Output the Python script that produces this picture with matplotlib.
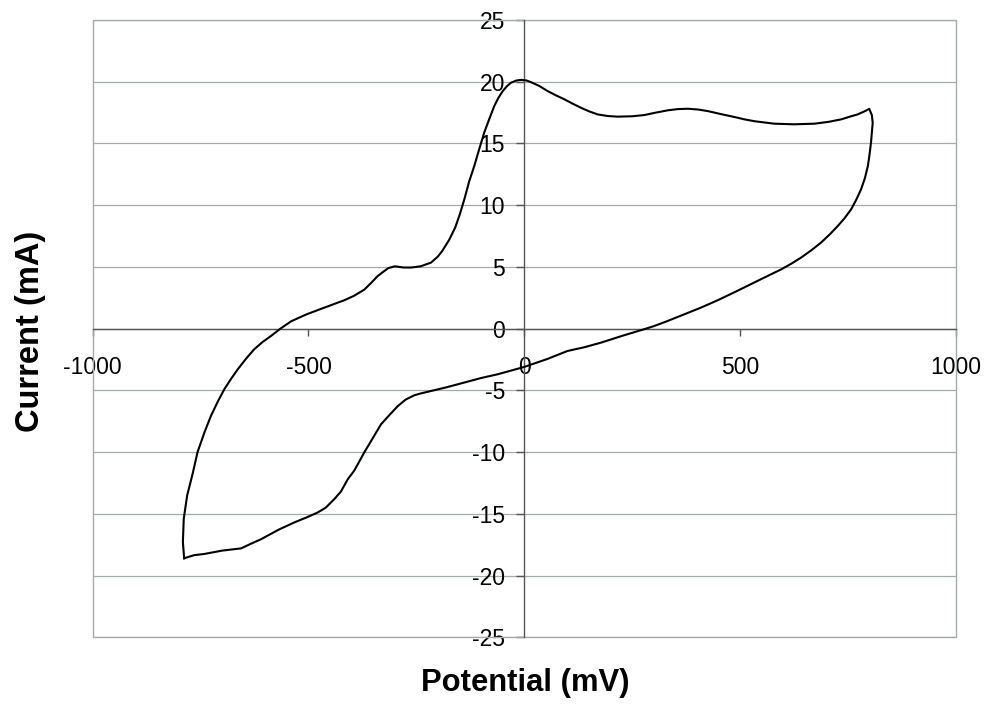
import matplotlib
matplotlib.use("Agg")
import matplotlib.pyplot as plt
from matplotlib.patches import Rectangle

plt.rcParams['font.family'] = ['Liberation Sans', 'DejaVu Sans']

# Cyclic voltammogram (potential in mV, current in mA)
potential_mv = [
    -788, -791, -789, -781, -768, -757, -741, -726, -710, -695, -680, -664, -645,
    -626, -607, -587, -565, -540, -505, -471, -440, -417, -395, -371, -355, -340,
    -325, -315, -300, -280, -262, -240, -216, -200, -190, -174, -160, -150, -139,
    -128, -116, -104, -93, -81, -70, -60, -50, -40, -31, -18, -7, 5, 15, 35, 54,
    73, 93, 112, 131, 150, 170, 193, 216, 250, 278, 305, 332, 355, 379, 402, 425,
    455, 487, 510, 533, 556, 579, 625, 672, 705, 734, 757, 772, 788, 799,
    805, 807, 805, 803, 800, 796, 789, 780, 769, 757, 742, 726, 708, 687, 665,
    641, 618, 595, 548, 487, 448, 409, 370, 332, 300, 282, 230, 178, 140, 100,
    54, 0, -62, -100, -139, -180, -216, -240, -255, -275, -293, -310, -332, -350,
    -371, -394, -409, -425, -440, -460, -479, -505, -533, -570, -610, -635, -656,
    -700, -741, -765, -788,
]
current_ma = [
    -18.6, -17.3, -15.4, -13.5, -11.7, -10.0, -8.4, -7.07, -5.9, -4.91, -4.1, -3.3, -2.45,
    -1.68, -1.1, -0.6, 0.0, 0.6, 1.15, 1.6, 2.0, 2.3, 2.65, 3.15, 3.7, 4.25,
    4.65, 4.9, 5.05, 4.95, 4.95, 5.05, 5.35, 5.85, 6.3, 7.2, 8.2, 9.2, 10.47,
    11.9, 13.17, 14.6, 15.87, 17.0, 18.0, 18.7, 19.24, 19.65, 19.92, 20.1, 20.15, 20.1, 19.97, 19.65, 19.24,
    18.9, 18.57, 18.22, 17.89, 17.6, 17.35, 17.22, 17.17, 17.2, 17.3, 17.5, 17.68, 17.78, 17.81, 17.75, 17.62,
    17.38, 17.14, 16.95, 16.8, 16.7, 16.6, 16.55, 16.6, 16.75, 16.95, 17.2, 17.35, 17.6, 17.8,
    17.3, 16.68, 15.9, 15.06, 14.2, 13.2, 12.2, 11.28, 10.45, 9.66, 8.95, 8.31, 7.65, 6.96, 6.35,
    5.75, 5.25, 4.8, 4.0, 2.95, 2.3, 1.7, 1.15, 0.62, 0.2, 0.0, -0.55, -1.13, -1.5, -1.81,
    -2.45, -3.1, -3.7, -4.0, -4.37, -4.75, -5.05, -5.25, -5.4, -5.75, -6.27, -6.9, -7.75, -8.8,
    -10.04, -11.5, -12.2, -13.2, -13.8, -14.5, -14.9, -15.3, -15.7, -16.3, -17.06, -17.45, -17.8,
    -17.98, -18.25, -18.35, -18.6,
]

x_ticks = [-1000, -500, 0, 500, 1000]
y_ticks = [-25, -20, -15, -10, -5, 0, 5, 10, 15, 20, 25]

fig = plt.figure(figsize=(9.91, 7.11), dpi=100)
ax = fig.add_axes([0.0935, 0.1037, 0.8712, 0.8682])

grid_c = '#a4abab'
axis_c = '#555555'

ax.plot(potential_mv, current_ma, color='black', lw=1.5, zorder=5)

ax.set_xlim(-1000, 1000)
ax.set_ylim(-25, 25)
ax.set_xticks(x_ticks)
ax.set_yticks(y_ticks)
ax.set_xticklabels([str(v) for v in x_ticks])
ax.set_yticklabels([str(v) for v in y_ticks])

ax.yaxis.grid(True, color=grid_c, lw=0.9)
ax.xaxis.grid(False)
ax.set_axisbelow(True)

for s in ['top', 'right']:
    ax.spines[s].set_visible(False)
ax.spines['left'].set_position(('data', 0))
ax.spines['bottom'].set_position(('data', 0))
for s in ['left', 'bottom']:
    ax.spines[s].set_color(axis_c)
    ax.spines[s].set_linewidth(1.0)
    ax.spines[s].set_zorder(3)

ax.add_patch(Rectangle((0, 0), 1, 1, transform=ax.transAxes, fill=False,
                       edgecolor=grid_c, lw=1.0, zorder=1, clip_on=False))

ax.tick_params(axis='y', direction='out', length=6, width=1.0, color=axis_c,
               pad=8, labelsize=16.5)
ax.tick_params(axis='x', direction='out', length=5, width=1.0, color=axis_c,
               pad=14.5, labelsize=16.5)

fig.text(0.0303, 0.5345, 'Current (mA)', rotation=90, ha='center', va='center',
         fontsize=23.5, fontweight='bold')
fig.text(0.5298, 0.0394, 'Potential (mV)', ha='center', va='center',
         fontsize=22.3, fontweight='bold')

fig.savefig('out.png', dpi=100)
